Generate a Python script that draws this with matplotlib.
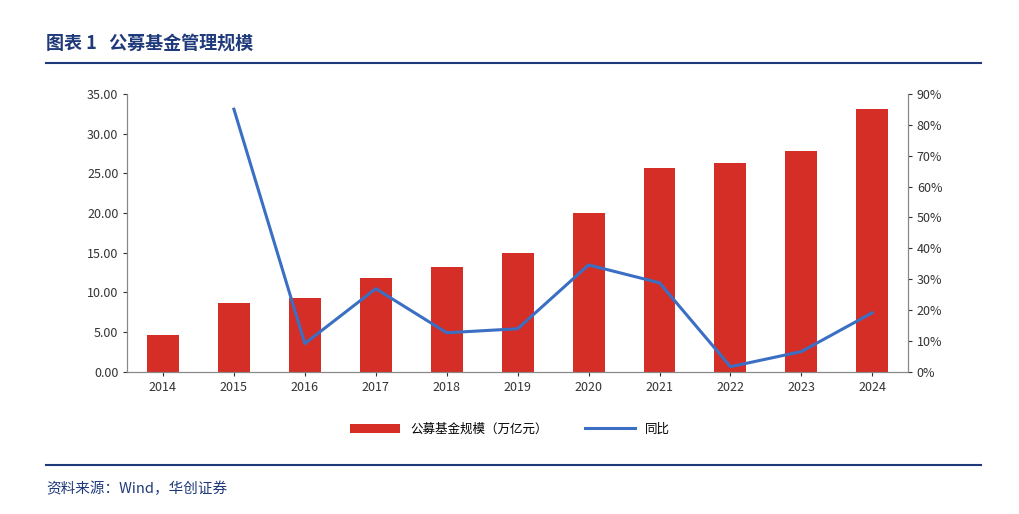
import numpy as np
import matplotlib.pyplot as plt
from matplotlib.ticker import FuncFormatter

plt.rcParams['font.family'] = ['Noto Sans CJK SC', 'DejaVu Sans']

years = ['2014', '2015', '2016', '2017', '2018', '2019', '2020', '2021', '2022', '2023', '2024']
scale = [4.66, 8.69, 9.32, 11.84, 13.2, 15.0, 20.0, 25.7, 26.3, 27.8, 33.1]
yoy = [np.nan, 85.1, 9.1, 26.9, 12.6, 13.9, 34.6, 28.8, 1.6, 6.5, 19.1]

red = '#D42E27'
blue = '#3A6FC4'
navy = '#1F3A7A'

fig = plt.figure(figsize=(10.2, 5.14), dpi=100)
ax = fig.add_axes([0.125, 0.277, 0.765, 0.54])
x = np.arange(len(years))
ax.bar(x, scale, width=0.45, color=red, label='公募基金规模（万亿元）')
ax.set_ylim(0, 35)
ax.set_yticks(np.arange(0, 35.1, 5))
ax.yaxis.set_major_formatter(FuncFormatter(lambda v, p: f'{v:.2f}'))
ax.set_xlim(-0.5, len(years) - 0.5)
ax.set_xticks(x)
ax.set_xticklabels(years)

ax2 = ax.twinx()
ax2.plot(x, yoy, color=blue, lw=2.2, label='同比')
ax2.set_ylim(0, 90)
ax2.set_yticks(np.arange(0, 91, 10))
ax2.yaxis.set_major_formatter(FuncFormatter(lambda v, p: f'{v:.0f}%'))

for a in (ax, ax2):
    a.spines['top'].set_visible(False)
    a.tick_params(labelsize=9, colors='#333333', direction='out', length=3)
    for s in a.spines.values():
        s.set_color('#888888')

h1, l1 = ax.get_legend_handles_labels()
h2, l2 = ax2.get_legend_handles_labels()
fig.legend(h1 + h2, l1 + l2, loc='center', bbox_to_anchor=(0.5, 0.165), ncol=2,
           frameon=False, fontsize=9, handlelength=4, columnspacing=3)

fig.text(0.045, 0.905, '图表 1   公募基金管理规模', fontsize=13, fontweight='bold', color=navy)
fig.add_artist(plt.Line2D([0.045, 0.962], [0.877, 0.877], color=navy, lw=1.5))
fig.add_artist(plt.Line2D([0.045, 0.962], [0.095, 0.095], color=navy, lw=1.5))
fig.text(0.045, 0.04, '资料来源：Wind，华创证券', fontsize=10.5, color=navy, style='italic')

fig.savefig('out.png')
